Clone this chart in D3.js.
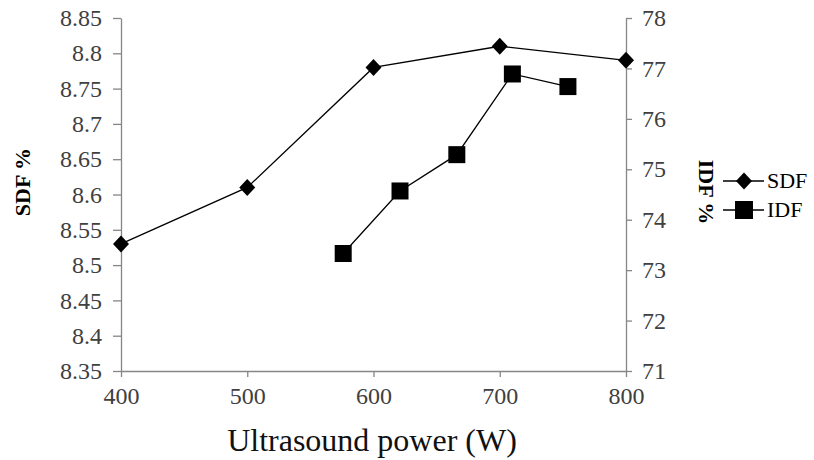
<!DOCTYPE html>
<html>
<head>
<meta charset="utf-8">
<script src="https://cdn.jsdelivr.net/npm/d3@7"></script>
<style>
  body { margin: 0; background: #fff; }
  svg { display: block; font-family: "Liberation Serif", "Times New Roman", serif; }
</style>
</head>
<body>
<div id="chart"></div>
<script>
// データ
var sdf_power = [400, 500, 600, 700, 800];
var sdf_values = [8.53, 8.61, 8.78, 8.81, 8.79];
var idf_power = [576, 621, 666, 710, 754];
var idf_values = [73.33, 74.57, 75.29, 76.89, 76.64];
var x_ticks = [400, 500, 600, 700, 800];
var left_ticks = [8.35, 8.4, 8.45, 8.5, 8.55, 8.6, 8.65, 8.7, 8.75, 8.8, 8.85];
var right_ticks = [71, 72, 73, 74, 75, 76, 77, 78];

var W = 814, H = 460;
var m = {l: 121, r: 188, t: 18, b: 89};
var serif = '"Liberation Serif", "Times New Roman", serif';

var svg = d3.select("#chart").append("svg").attr("width", W).attr("height", H);

var x = d3.scaleLinear().domain([400, 800]).range([m.l, W - m.r]);
var yL = d3.scaleLinear().domain([8.35, 8.85]).range([H - m.b, m.t]);
var yR = d3.scaleLinear().domain([71, 78]).range([H - m.b, m.t]);

var axisColor = "#868686", textColor = "#404040";

function styleAxis(g){
  g.attr("font-family", serif).attr("font-size", 24);
  g.select(".domain").attr("stroke", axisColor).attr("stroke-width", 1.3);
  g.selectAll(".tick line").attr("stroke", axisColor).attr("stroke-width", 1.3);
  g.selectAll(".tick text").attr("fill", textColor);
}

// 軸
var gx = svg.append("g").attr("transform", "translate(0," + (H - m.b) + ")")
  .call(d3.axisBottom(x).tickValues(x_ticks).tickSize(6).tickSizeOuter(0).tickPadding(10));
styleAxis(gx);

var gl = svg.append("g").attr("transform", "translate(" + m.l + ",0)")
  .call(d3.axisLeft(yL).tickValues(left_ticks).tickFormat(d3.format("")).tickSize(8).tickSizeOuter(0).tickPadding(11));
styleAxis(gl);

var gr = svg.append("g").attr("transform", "translate(" + (W - m.r) + ",0)")
  .call(d3.axisRight(yR).tickValues(right_ticks).tickFormat(d3.format("d")).tickSize(6).tickSizeOuter(0).tickPadding(10));
styleAxis(gr);

// 軸タイトル
svg.append("text").attr("x", 372).attr("y", 451)
  .attr("text-anchor", "middle").style("font-size", "32px").attr("fill", "#111")
  .text("Ultrasound power (W)");

svg.append("text").attr("transform", "translate(30,182) rotate(-90)")
  .attr("text-anchor", "middle").style("font-size", "22px").style("font-weight", "bold")
  .text("SDF %");

svg.append("text").attr("transform", "translate(699,192) rotate(90)")
  .attr("text-anchor", "middle").style("font-size", "22px").style("font-weight", "bold")
  .text("IDF %");

// 線
var sdf = sdf_power.map(function(p, i){ return [x(p), yL(sdf_values[i])]; });
var idf = idf_power.map(function(p, i){ return [x(p), yR(idf_values[i])]; });

svg.append("path").attr("d", d3.line()(sdf)).attr("fill", "none").attr("stroke", "#000").attr("stroke-width", 1.3);
svg.append("path").attr("d", d3.line()(idf)).attr("fill", "none").attr("stroke", "#000").attr("stroke-width", 1.3);

var diamond = "M0,-8.5L8,0L0,8.5L-8,0Z";
svg.selectAll(".sdf").data(sdf).enter().append("path").attr("class", "sdf")
  .attr("transform", function(d){ return "translate(" + d[0] + "," + d[1] + ")"; })
  .attr("d", diamond).attr("fill", "#000");

svg.selectAll(".idf").data(idf).enter().append("rect").attr("class", "idf")
  .attr("x", function(d){ return d[0] - 8.5; }).attr("y", function(d){ return d[1] - 8.5; })
  .attr("width", 17).attr("height", 17).attr("fill", "#000");

// 凡例
var lg = svg.append("g").attr("transform", "translate(723,0)");
lg.append("line").attr("x1", 0).attr("x2", 41).attr("y1", 181).attr("y2", 181).attr("stroke", "#000").attr("stroke-width", 1.3);
lg.append("path").attr("transform", "translate(21,181)").attr("d", diamond).attr("fill", "#000");
lg.append("text").attr("x", 44).attr("y", 188).style("font-size", "22px").text("SDF");
lg.append("line").attr("x1", 0).attr("x2", 41).attr("y1", 210).attr("y2", 210).attr("stroke", "#000").attr("stroke-width", 1.3);
lg.append("rect").attr("x", 12).attr("y", 201).attr("width", 18).attr("height", 18).attr("fill", "#000");
lg.append("text").attr("x", 44).attr("y", 217).style("font-size", "22px").text("IDF");
</script>
</body>
</html>
